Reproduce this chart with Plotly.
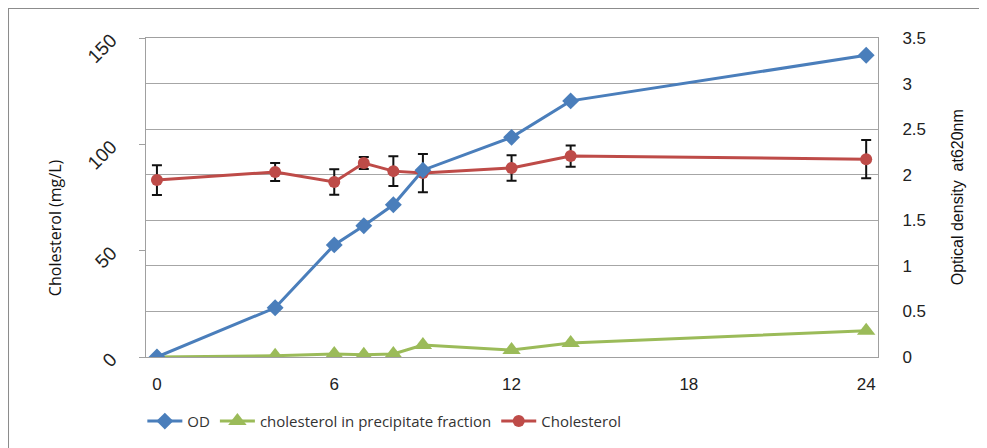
import plotly.graph_objects as go

hours = [0, 4, 6, 7, 8, 9, 12, 14, 24]
od = [0.0, 0.54, 1.23, 1.44, 1.67, 2.05, 2.41, 2.81, 3.31]
precip = [0.0, 0.6, 1.4, 1.0, 1.4, 5.6, 3.3, 6.6, 12.4]
chol = [83.2, 87.0, 82.3, 91.2, 87.4, 86.5, 88.9, 94.5, 93.0]
chol_err = [7.0, 4.2, 6.0, 2.8, 7.0, 9.0, 6.0, 5.0, 9.0]

x_ticks = [0, 6, 12, 18, 24]
left_ticks = [0, 50, 100, 150]
right_ticks = [0, 0.5, 1, 1.5, 2, 2.5, 3, 3.5]
right_labels = ["0", "0.5", "1", "1.5", "2", "2.5", "3", "3.5"]

BLUE = "#4A7EBB"
GREEN = "#9BBB59"
RED = "#BE4B48"

fig = go.Figure()
fig.add_trace(go.Scatter(
    x=hours, y=od, name="OD", yaxis="y2", mode="lines+markers",
    line=dict(color=BLUE, width=3),
    marker=dict(symbol="diamond", size=13, color=BLUE)))
fig.add_trace(go.Scatter(
    x=hours, y=precip, name="cholesterol in precipitate fraction", mode="lines+markers",
    line=dict(color=GREEN, width=3),
    marker=dict(symbol="triangle-up", size=16, color=GREEN)))
fig.add_trace(go.Scatter(
    x=hours, y=chol, name="Cholesterol", mode="lines+markers",
    line=dict(color=RED, width=3),
    marker=dict(symbol="circle", size=12, color=RED),
    error_y=dict(type="data", array=chol_err, color="#111111", thickness=2, width=5)))

fig.update_layout(
    width=979, height=440,
    margin=dict(l=138, r=109, t=30, b=91, autoexpand=False),
    paper_bgcolor="white", plot_bgcolor="white",
    font=dict(family="Liberation Sans, Arial", size=15, color="#222222"),
    showlegend=True,
    legend=dict(orientation="h", x=-0.005, y=-0.15, xanchor="left", yanchor="top",
                font=dict(family="Open Sans", size=15, color="#333333"),
                traceorder="normal", itemwidth=35, tracegroupgap=0),
    xaxis=dict(range=[-0.37, 24.4], tickvals=x_ticks, ticktext=[str(v) for v in x_ticks],
               showgrid=False, zeroline=False, showline=True, linecolor="#A0A0A0",
               linewidth=1, mirror=True, ticks="", ticklabelstandoff=12,
               tickfont=dict(size=17), automargin=False),
    yaxis=dict(range=[0, 150], tickvals=left_ticks, ticktext=[str(v) for v in left_ticks],
               tickangle=-45, showgrid=False, zeroline=False, showline=True,
               linecolor="#A0A0A0", linewidth=1, ticks="outside", ticklen=6,
               tickcolor="#A0A0A0", tickfont=dict(size=19), ticklabelstandoff=24,
               automargin=False),
    yaxis2=dict(range=[0, 3.5], tickvals=right_ticks, ticktext=right_labels,
                overlaying="y", side="right", showgrid=True, gridcolor="#A6A6A6",
                gridwidth=1, zeroline=False, showline=True, linecolor="#A0A0A0",
                ticks="", ticklabelstandoff=20, tickfont=dict(size=17),
                automargin=False),
)

fig.add_annotation(text="Cholesterol (mg/L)", xref="paper", yref="paper",
                   x=-0.1243, y=0.404, xanchor="center", yanchor="middle",
                   textangle=-90, showarrow=False,
                   font=dict(family="Open Sans", size=16, color="#111111"))
fig.add_annotation(text="Optical density  at620nm", xref="paper", yref="paper",
                   x=1.109, y=0.5, xanchor="center", yanchor="middle",
                   textangle=-90, showarrow=False,
                   font=dict(family="Liberation Sans", size=16, color="#111111"))

fig.add_shape(type="rect", xref="paper", yref="paper",
              x0=-0.1885, y0=-0.4, x1=1.2, y1=1.094,
              line=dict(color="#8C8C8C", width=2), layer="below")

fig.write_html("out.html")
